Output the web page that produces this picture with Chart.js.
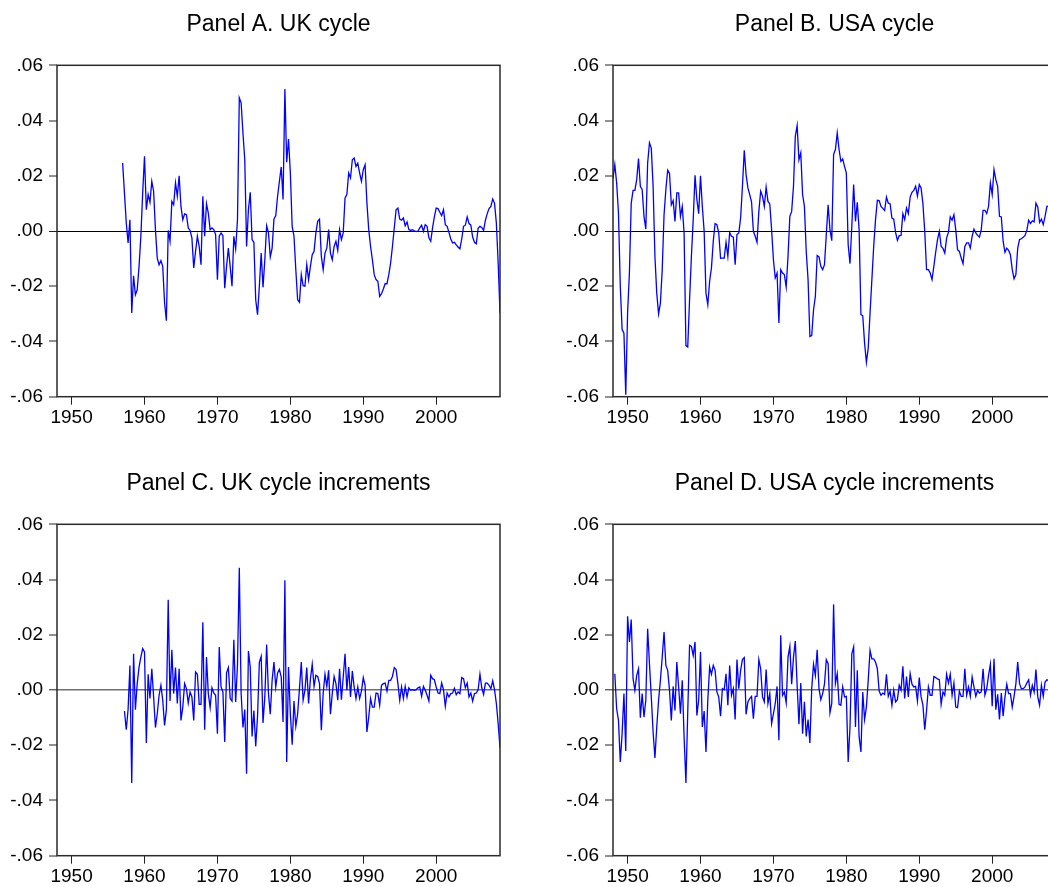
<!DOCTYPE html>
<html>
<head>
<meta charset="utf-8">
<title>UK and USA cycles</title>
<script src="https://cdn.jsdelivr.net/npm/chart.js@4/dist/chart.umd.min.js"></script>
<style>
html, body { margin: 0; padding: 0; background: #fff; width: 1048px; height: 887px; overflow: hidden; }
body { position: relative; }
canvas { position: absolute; }
</style>
</head>
<body>
<canvas id="panelA" width="520" height="430" style="left:0px;top:0px"></canvas>
<canvas id="panelB" width="520" height="430" style="left:555.7px;top:0px"></canvas>
<canvas id="panelC" width="520" height="430" style="left:0px;top:458.7px"></canvas>
<canvas id="panelD" width="520" height="430" style="left:555.7px;top:458.7px"></canvas>
<script>
// quarterly data, one row per year (Q1..Q4)
const ukCycleStart = 1957;       // 1957Q1
const ukCycle = [
    .0246, .0138, .0029, -.0043,
    .0041, -.0297, -.0162, -.0231,
    -.0213, -.0128, -.0019, .0138,
    .0271, .0077, .0132, .0104,
    .018, .0144, .0005, -.0098,
    -.0122, -.0107, -.0128, -.026,
    -.0325, .0002, -.0037, .0107,
    .0095, .0174, .0126, .02,
    .0089, .0041, .0062, .0059,
    .0011, .0002, -.0025, -.0134,
    -.0074, -.0019, -.0056, -.0122,
    .0126, -.0019, .0099, .0065,
    .0005, .0011, .0005, -.0013,
    -.0176, -.0019, -.0007, -.0017,
    -.0207, -.0128, -.0062, -.0128,
    -.02, -.0019, -.0065, .0041,
    .0482, .0464, .0355, .0258,
    -.0056, .0077, .014, -.0031,
    -.0041, -.0249, -.0303, -.02,
    -.008, -.0204, -.0104, .0019,
    -.0007, -.0094, -.0062, .0043,
    .0056, .0126, .018, .0232,
    .0114, .0514, .0249, .0333,
    .021, .0017, -.0019, -.014,
    -.0249, -.0258, -.0158, -.0198,
    -.02, -.0122, -.0176, -.0128,
    -.0086, -.0074, -.0007, .0035,
    .0043, -.0092, -.014, -.008,
    -.0062, .0005, -.008, -.0104,
    -.0056, -.0037, -.007, .0005,
    -.0031, -.0007, .012, .0132,
    .021, .0192, .0258, .0264,
    .0234, .0246, .021, .018,
    .0222, .024, .0101, .0005,
    -.0056, -.0104, -.0158, -.0176,
    -.0182, -.0237, -.0227, -.021,
    -.0191, -.0191, -.0158, -.0116,
    -.0056, .0011, .0077, .0083,
    .0043, .0039, .0047, .0019,
    .0033, .0005, .0002, .0005,
    .0001, -.0002, 0, .0011,
    .0021, -.0001, .0023, .0017,
    -.0025, -.0037, .0011, .0051,
    .0083, .0081, .0068, .0056,
    .0077, .0023, .0017, -.0005,
    -.0029, -.0043, -.0041, -.005,
    -.0058, -.0065, -.0029, .0017,
    .0021, .0051, .0027, .0021,
    -.0022, -.0041, -.0046, .001,
    .0017, .0013, .0002, .0039,
    .0063, .0081, .0089, .0116,
    .0101, .0029, -.0116, -.0297
];

const usCycleStart = 1948;       // 1948Q1
const usCycle = [
    .019, .024, .0174, .0065,
    -.02, -.0357, -.037, -.0593,
    -.0297, -.0152, .0101, .0147,
    .0147, .0186, .0262, .0162,
    .015, .0053, .0007, .0246,
    .0319, .03, .0162, -.0092,
    -.0225, -.03, -.0261, -.014,
    .0059, .015, .022, .0208,
    .0095, .011, .0035, .0138,
    .0138, .0053, .0089, -.0007,
    -.0415, -.042, -.0249, -.0092,
    .0041, .0202, .0114, .0063,
    .02, .0089, -.0001, -.0225,
    -.0267, -.0182, -.0134, -.0037,
    .0027, .0023, -.0007, -.0099,
    -.0098, -.0098, -.0041, -.0092,
    -.0005, -.0019, -.0022, -.0122,
    -.0013, -.0007, .0047, .0162,
    .0292, .0204, .0156, .0132,
    .0105, -.0001, -.0019, -.0041,
    .0071, .0144, .0126, .0089,
    .0159, .0107, .0098, .0005,
    -.0104, -.017, -.0152, -.0333,
    -.014, -.0152, -.0158, -.0203,
    -.0092, .0053, .0071, .0162,
    .0343, .0382, .0258, .0283,
    .0132, .0089, -.0074, -.0176,
    -.0382, -.0379, -.0285, -.0237,
    -.0089, -.0094, -.0128, -.014,
    -.0122, -.0013, .0095, .0005,
    -.0035, .0277, .0295, .0355,
    .0295, .0252, .0261, .0234,
    .021, -.005, -.0118, .0017,
    .0168, .0035, .0104, .0005,
    -.0303, -.0307, -.0406, -.0476,
    -.0424, -.0297, -.0176, -.0056,
    .0041, .0111, .011, .0089,
    .0082, .0074, .0123, .0101,
    .0099, .0047, .0043, -.0005,
    -.0034, -.0017, -.0016, .0063,
    .0041, .0083, .0063, .0123,
    .014, .0147, .0162, .0126,
    .0168, .0156, .0099, -.0001,
    -.014, -.014, -.0152, -.0176,
    -.0128, -.0077, -.0031, -.0001,
    -.0056, -.0063, -.008, -.0025,
    -.0005, .0051, .0039, .0059,
    .0005, -.0068, -.0074, -.0098,
    -.0118, -.0056, -.0043, -.0043,
    -.0062, -.0019, .0007, -.0007,
    -.0016, -.0022, .0005, .0075,
    .0075, .0063, .0089, .0174,
    .0132, .0222, .0186, .0162,
    .0053, .0051, -.0037, -.0077,
    -.0062, -.007, -.0086, -.014,
    -.0173, -.0158, -.0062, -.0031,
    -.0028, -.0023, -.0016, .0002,
    .0039, .0027, .0037, .0033,
    .0101, .0087, .0031, .0043,
    .0023, .0053, .0089, .009
];

const ukIncrStart = 1957.25;     // 1957Q2
const ukIncr = [
    -.0076, -.0144, -.007,
    .0089, -.0337, .0131, -.0071,
    .0023, .0083, .0119, .015,
    .0138, -.0192, .0057, -.0031,
    .0077, -.0025, -.0136, -.0086,
    -.0019, .0017, -.0037, -.0128,
    -.0071, .0327, -.004, .0146,
    -.0013, .0081, -.0049, .0077,
    -.011, -.0062, .0023, .0005,
    -.0047, -.0007, -.0025, -.011,
    .0065, .0057, -.0052, -.0052,
    .0245, -.0144, .0119, -.0013,
    -.0064, .0008, -.0011, -.0019,
    -.0158, .0156, .0011, -.0007,
    -.0188, .0062, .0081, -.0031,
    -.004, .0182, -.0043, .009,
    .0443, -.0013, -.0136, -.0071,
    -.0303, .0141, .0083, -.0168,
    -.0074, -.0204, -.0095, .0101,
    .0122, -.0119, -.0025, .0165,
    -.0013, -.0088, .0035, .0101,
    .0011, .0062, .0075, .0047,
    -.0116, .0397, -.0261, .0083,
    -.0086, -.0198, -.004, -.0131,
    -.0086, .0005, .0101, -.0037,
    -.0001, .0081, -.0049, .004,
    .0093, .0013, .0053, .0049,
    .0023, -.0146, -.0013, .0057,
    .0013, .0071, -.0088, -.0013,
    .0049, .0023, -.0037, .0077,
    -.0035, .0047, .0131, -.0001,
    .0083, -.0025, .0069, .0011,
    -.0031, .0011, -.0031, -.0004,
    .0045, .0017, -.0152, -.0098,
    -.0031, -.0062, -.0062, -.0011,
    -.0013, -.0055, .0017, .0023,
    .0025, -.0004, .0035, .0035,
    .0049, .0081, .0074, .0023,
    -.0037, .0011, -.0031, .0013,
    -.0025, .0008, -.0001, .0001,
    -.0001, .0001, .0008, .0011,
    -.0023, .0013, -.0001, -.0019,
    -.004, .0053, .0041, .0037,
    .0011, -.0011, -.0013, .0025,
    .0001, -.0059, -.0011, -.0025,
    -.0013, -.0011, .0006, -.0017,
    -.0007, -.0013, .0045, .0041,
    .0008, .0025, -.0025, -.0011,
    -.004, -.0013, -.0011, .0001,
    .0057, .0008, -.0016, .0025,
    .0025, .0017, .0005, .0033,
    .0001, -.0049, -.0122, -.0209
];

const usIncrStart = 1948.25;     // 1948Q2
const usIncr = [
    .0059, -.0068, -.011,
    -.0261, -.0158, -.0013, -.0221,
    .0267, .0174, .0255, .0041,
    -.0001, .0053, .0077, -.01,
    -.0013, -.0098, -.0037, .0222,
    .0095, -.0025, -.0152, -.0246,
    -.0134, -.0037, .0035, .0119,
    .021, .0089, .0071, -.0001,
    -.011, .0013, -.0074, .0101,
    .0011, -.0086, .0035, -.017,
    -.0337, -.008, .0162, .0158,
    .0125, .0174, -.0092, -.0037,
    .0138, -.0134, -.0076, -.0224,
    -.0037, .0083, .0057, .0089,
    .0071, -.0007, -.0025, -.0095,
    .0005, .0001, .0059, -.0055,
    .0089, -.0019, .0005, -.0107,
    .011, .0005, .0071, .011,
    .0117, -.0088, -.0043, -.0031,
    -.0023, -.0104, -.0023, -.0023,
    .011, .0077, -.0025, -.0043,
    .0074, -.0049, -.0013, -.0122,
    -.0086, -.0049, .0013, -.0182,
    .0198, -.0019, -.0007, -.0047,
    .0119, .0158, .0021, .0119,
    .0177, .0017, -.0124, .0025,
    -.0158, -.0043, -.0168, -.0107,
    -.0192, .0005, .0093, .0053,
    .0146, .0005, -.0035, -.0013,
    .0021, .011, .0095, -.0083,
    -.0049, .031, .0023, .0059,
    -.0052, -.0055, .0011, -.0025,
    -.0023, -.0261, -.0134, .0131,
    .0156, -.0134, .0071, -.017,
    -.0224, -.0007, -.0107, -.0061,
    .0035, .0144, .0113, .0113,
    .0101, .0077, -.0004, -.0019,
    -.0011, -.0016, .0057, -.0023,
    -.0004, -.0055, -.0001, -.0043,
    -.0035, .0017, -.0001, .0086,
    -.0031, .0049, -.0025, .0059,
    .0021, .0011, .0013, -.004,
    .0045, -.0025, -.0055, -.0144,
    -.0074, .0011, -.0019, -.0019,
    .0049, .0045, .004, .0037,
    -.0052, -.0007, -.0019, .0057,
    .0025, .0057, -.0019, .0025,
    -.0062, -.0064, -.0004, -.0023,
    -.0023, .0077, -.0019, .0011,
    -.0023, .0047, .0011, -.0023,
    -.0001, -.0011, -.0007, .0077,
    -.0019, .0005, .0053, .0093,
    -.0059, .0113, -.0071, -.0016,
    -.0107, -.0011, -.0095, -.0025,
    .0021, -.0013, -.0013, -.0062,
    -.0023, .0023, .0101, .0023,
    .0005, .0005, .0011, .0025,
    .0037, -.0019, .0017, -.0007,
    .0074, -.0025, -.0055, .0017,
    -.0023, .0029, .0037, .0035
];

const xTickYears = [1950, 1960, 1970, 1980, 1990, 2000];
const yTickValues = [-0.06, -0.04, -0.02, 0, 0.02, 0.04, 0.06];
const xRange = [1948, 2008.75];
const yRange = [-0.06, 0.06];

const FONT = '"Liberation Sans", Arial, Helvetica, sans-serif';

// box round the plot area
const frame = {
    id: "frame",
    afterDraw(chart) {
        const a = chart.chartArea;
        const c = chart.ctx;
        c.save();
        c.strokeStyle = "#2a2a2a";
        c.lineWidth = 1.5;
        c.strokeRect(a.left, a.top, a.right - a.left, a.bottom - a.top);
        c.restore();
    }
};

function toPoints(start, values) {
    return values.map((v, k) => ({ x: start + k / 4, y: v }));
}

function fmtY(v) {
    const r = Math.round(v * 100);
    return (r < 0 ? "-" : "") + "." + String(Math.abs(r)).padStart(2, "0");
}

function makePanel(id, title, start, values, zeroColor, zeroWidth) {
    const ctx = document.getElementById(id).getContext("2d");
    return new Chart(ctx, {
        type: "line",
        data: {
            datasets: [{
                data: toPoints(start, values),
                borderColor: "#0000ff",
                borderWidth: 1.3,
                pointRadius: 0,
                tension: 0,
                fill: false
            }]
        },
        options: {
            responsive: false,
            animation: false,
            layout: { padding: { left: 0, right: 20, top: 0, bottom: 0 } },
            plugins: {
                legend: { display: false },
                tooltip: { enabled: false },
                title: {
                    display: true,
                    text: title,
                    fullSize: false,
                    color: "#000",
                    font: { family: FONT, size: 23, weight: "normal", lineHeight: 1.2 },
                    padding: { top: 11, bottom: 26.7 }
                }
            },
            scales: {
                x: {
                    type: "linear",
                    min: xRange[0],
                    max: xRange[1],
                    afterBuildTicks: s => { s.ticks = xTickYears.map(v => ({ value: v })); },
                    afterFit: s => { s.height = 33.3; },
                    border: { display: false },
                    grid: {
                        drawOnChartArea: false,
                        drawTicks: true,
                        tickLength: 8,
                        tickColor: "#222",
                        tickWidth: 1
                    },
                    ticks: {
                        autoSkip: false,
                        maxRotation: 0,
                        padding: 2,
                        color: "#000",
                        font: { family: FONT, size: 19 },
                        callback: v => String(v)
                    }
                },
                y: {
                    type: "linear",
                    min: yRange[0],
                    max: yRange[1],
                    afterBuildTicks: s => { s.ticks = yTickValues.map(v => ({ value: v })); },
                    afterFit: s => { s.width = 57; },
                    border: { display: false },
                    grid: {
                        drawOnChartArea: true,
                        drawTicks: true,
                        tickLength: 8,
                        tickColor: "#222",
                        tickWidth: 1,
                        color: c => (c.tick && c.tick.value === 0) ? zeroColor : "rgba(0,0,0,0)",
                        lineWidth: c => (c.tick && c.tick.value === 0) ? zeroWidth : 0
                    },
                    ticks: {
                        padding: 6,
                        color: "#000",
                        font: { family: FONT, size: 19 },
                        callback: v => fmtY(v)
                    }
                }
            }
        },
        plugins: [frame]
    });
}

makePanel("panelA", "Panel A. UK cycle", ukCycleStart, ukCycle, "#000", 1);
makePanel("panelB", "Panel B. USA cycle", usCycleStart, usCycle, "#000", 1);
makePanel("panelC", "Panel C. UK cycle increments", ukIncrStart, ukIncr, "#707070", 1.6);
makePanel("panelD", "Panel D. USA cycle increments", usIncrStart, usIncr, "#707070", 1.6);
</script>
</body>
</html>
